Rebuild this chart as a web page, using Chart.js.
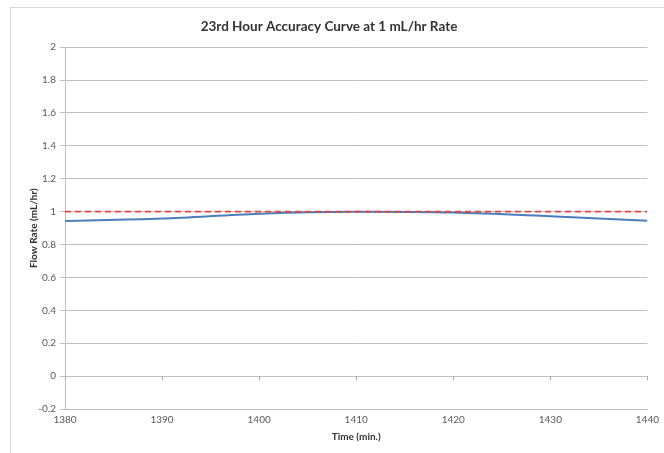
<!DOCTYPE html>
<html>
<head>
<meta charset="utf-8">
<script src="https://cdn.jsdelivr.net/npm/chart.js@4/dist/chart.umd.min.js"></script>
<style>
  html, body { margin: 0; padding: 0; background: #fff; }
  #frame { position: absolute; left: 10px; top: 7px; width: 720px; height: 520px; border: 1px solid #d9d9d9; }
  #wrap { position: absolute; left: 0; top: 0; width: 664px; height: 453px; }
</style>
</head>
<body>
<div id="frame"></div>
<div id="wrap"><canvas id="c" width="664" height="453"></canvas></div>
<script>
const times = [1380, 1390, 1400, 1410, 1420, 1430, 1440];
const flowRate = [0.943, 0.958, 0.988, 1.0, 0.995, 0.972, 0.945];
const targetRate = [1, 1, 1, 1, 1, 1, 1];
const chartTitle = '23rd Hour Accuracy Curve at 1 mL/hr Rate';
const xTitle = 'Time (min.)';
const yTitle = 'Flow Rate (mL/hr)';

const FONT = 'Lato, "Open Sans", sans-serif';

const zeroTicks = {
  id: 'zeroTicks',
  afterDatasetsDraw(chart) {
    const xs = chart.scales.x, ys = chart.scales.y;
    const y0 = ys.getPixelForValue(0);
    const ctx = chart.ctx;
    ctx.save();
    ctx.strokeStyle = '#a6a6a6';
    ctx.lineWidth = 1;
    xs.ticks.forEach(t => {
      const px = Math.round(xs.getPixelForValue(t.value)) + 0.5;
      ctx.beginPath();
      ctx.moveTo(px, y0);
      ctx.lineTo(px, y0 + 4);
      ctx.stroke();
    });
    ctx.restore();
  }
};

new Chart(document.getElementById('c'), {
  type: 'line',
  data: {
    datasets: [
      {
        label: 'Target',
        data: times.map((t, i) => ({ x: t, y: targetRate[i] })),
        borderColor: '#e8423f',
        borderWidth: 1.8,
        borderDash: [6, 4],
        pointRadius: 0,
        fill: false,
        tension: 0,
        order: 0
      },
      {
        label: 'Flow Rate',
        data: times.map((t, i) => ({ x: t, y: flowRate[i] })),
        borderColor: '#4a7ebb',
        borderWidth: 2,
        pointRadius: 0,
        fill: false,
        tension: 0.4,
        cubicInterpolationMode: 'monotone',
        order: 1
      }
    ]
  },
  plugins: [zeroTicks],
  options: {
    responsive: false,
    animation: false,
    layout: { padding: { left: 10, right: 16, top: 0, bottom: 0 } },
    plugins: {
      legend: { display: false },
      tooltip: { enabled: false },
      title: {
        display: true,
        text: chartTitle,
        color: '#333333',
        font: { family: FONT, size: 13.5, weight: 'bold', lineHeight: 1.2 },
        padding: { top: 19, bottom: 12 }
      }
    },
    scales: {
      x: {
        type: 'linear',
        min: 1380,
        max: 1440,
        ticks: {
          stepSize: 10,
          color: '#595959',
          font: { family: FONT, size: 10 },
          padding: 5,
          maxRotation: 0,
          callback: v => String(v)
        },
        grid: { display: false, drawTicks: false },
        border: { display: true, color: '#bfbfbf' },
        title: { display: true, text: xTitle, color: '#333333', font: { family: FONT, size: 10, weight: 'bold' }, padding: { top: 0, bottom: 10 } },
        afterFit(scale) { scale.height = 44; }
      },
      y: {
        min: -0.2,
        max: 2,
        ticks: {
          stepSize: 0.2,
          color: '#595959',
          font: { family: FONT, size: 10 },
          padding: 4,
          callback: v => String(+v.toFixed(1))
        },
        grid: { color: '#bfbfbf', tickLength: 5, lineWidth: 1 },
        border: { display: true, color: '#bfbfbf' },
        title: { display: true, text: yTitle, color: '#333333', font: { family: FONT, size: 10, weight: 'bold' }, padding: { top: 18, bottom: 0 } },
        afterFit(scale) { scale.width = 55; }
      }
    }
  }
});
</script>
</body>
</html>
